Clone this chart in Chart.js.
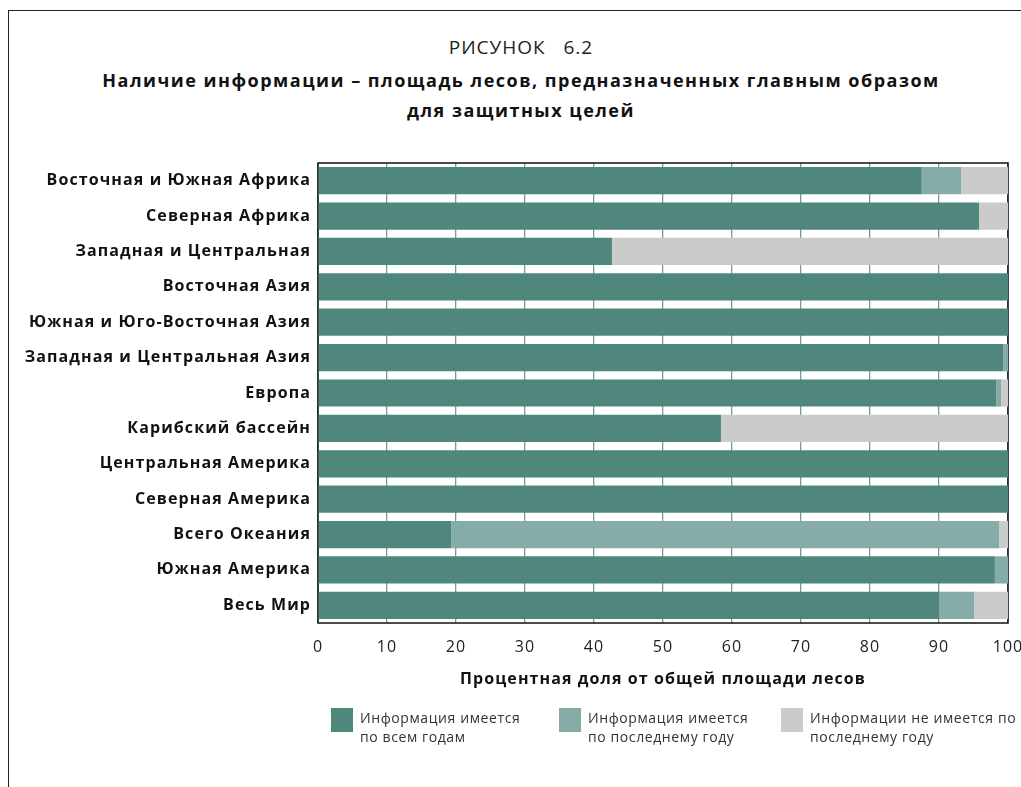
<!DOCTYPE html>
<html>
<head>
<meta charset="utf-8">
<script src="https://cdn.jsdelivr.net/npm/chart.js@4"></script>
<style>
    body { margin: 0; background: #fff; font-family: "Open Sans", sans-serif; }
    #wrap { position: relative; width: 1021px; height: 787px; overflow: hidden; }
    #frame { position: absolute; left: 8px; top: 10px; width: 1100px; height: 900px; border-left: 1.5px solid #222; border-top: 1.5px solid #222; }
    .t { position: absolute; left: 0; width: 1042px; text-align: center; color: #111; white-space: nowrap; }
    #fig { top: 34px; font-size: 19px; letter-spacing: 1px; color: #222; }
    #ttl { top: 65px; font-size: 18px; font-weight: bold; line-height: 30px; letter-spacing: 1.5px; }
    canvas { position: absolute; left: 0; top: 0; }
    .lg { position: absolute; top: 708px; font-size: 14px; line-height: 19px; color: #333; white-space: nowrap; letter-spacing: 0.6px; }
    .lg i { position: absolute; left: -29px; top: 0; width: 22px; height: 24px; }
</style>
</head>
<body>
<div id="wrap">
    <div id="frame"></div>
    <div class="t" id="fig">РИСУНОК&nbsp;&nbsp; 6.2</div>
    <div class="t" id="ttl">Наличие информации – площадь лесов, предназначенных главным образом<br>для защитных целей</div>
    <canvas id="forestChart" width="1021" height="787"></canvas>
    <div class="lg" style="left:360px"><i style="background:#4f877d"></i>Информация имеется<br>по всем годам</div>
    <div class="lg" style="left:588px"><i style="background:#86aca7"></i>Информация имеется<br>по последнему году</div>
    <div class="lg" style="left:810px"><i style="background:#cbcbcb"></i>Информации не имеется по<br>последнему году</div>
</div>
<script>
// Data
const regions = ['Восточная и Южная Африка', 'Северная Африка', 'Западная и Центральная', 'Восточная Азия',
    'Южная и Юго-Восточная Азия', 'Западная и Центральная Азия', 'Европа', 'Карибский бассейн',
    'Центральная Америка', 'Северная Америка', 'Всего Океания', 'Южная Америка', 'Весь Мир'];
const allYears = [87.5, 95.8, 42.6, 100, 100, 99.3, 98.3, 58.4, 100, 100, 19.3, 98.1, 90.0];
const lastYear = [5.7, 0, 0, 0, 0, 0.7, 0.7, 0, 0, 0, 79.4, 1.9, 5.1];
const noInfo = [6.8, 4.2, 57.4, 0, 0, 0, 1.0, 41.6, 0, 0, 1.3, 0, 4.9];
const xTicks = [0, 10, 20, 30, 40, 50, 60, 70, 80, 90, 100];

// wider text like the original
const spacing = {
    id: 'spacing',
    beforeLayout(chart) { chart.ctx.letterSpacing = '1.1px'; },
    beforeDraw(chart) { chart.ctx.letterSpacing = '1.1px'; }
};

// box round plot area, under the bars
const plotBox = {
    id: 'plotBox',
    beforeDatasetsDraw(chart) {
        const a = chart.chartArea;
        const ctx = chart.ctx;
        ctx.save();
        ctx.strokeStyle = '#111';
        ctx.lineWidth = 1.5;
        ctx.strokeRect(a.left, a.top, a.right - a.left, a.bottom - a.top);
        ctx.restore();
    }
};

const ctx = document.getElementById('forestChart').getContext('2d');
new Chart(ctx, {
    type: 'bar',
    data: {
        labels: regions,
        datasets: [
            { label: 'Информация имеется по всем годам', data: allYears, backgroundColor: '#4f877d' },
            { label: 'Информация имеется по последнему году', data: lastYear, backgroundColor: '#86aca7' },
            { label: 'Информации не имеется по последнему году', data: noInfo, backgroundColor: '#cbcbcb' }
        ]
    },
    options: {
        indexAxis: 'y',
        responsive: false,
        animation: false,
        barPercentage: 0.77,
        categoryPercentage: 1,
        layout: { padding: { top: 163, right: 13, bottom: 94, left: 0 } },
        plugins: {
            legend: { display: false },
            tooltip: { enabled: false }
        },
        scales: {
            x: {
                stacked: true,
                min: 0,
                max: 100,
                afterBuildTicks(scale) { scale.ticks = xTicks.map(v => ({ value: v })); },
                afterFit(scale) {
                    scale.height = 70;
                    scale.paddingLeft = 0;
                    scale.paddingRight = 0;
                },
                grid: { color: '#6f9f96', lineWidth: 1.3, drawTicks: false },
                border: { display: false },
                ticks: { padding: 15, color: '#222', font: { family: 'Open Sans', size: 16 } },
                title: {
                    display: true,
                    text: 'Процентная доля от общей площади лесов',
                    color: '#111',
                    padding: { top: 2 },
                    font: { family: 'Open Sans', size: 16, weight: 'bold' }
                }
            },
            y: {
                stacked: true,
                afterFit(scale) {
                    scale.width = 318;
                    scale.paddingTop = 0;
                    scale.paddingBottom = 0;
                },
                grid: { display: false, drawTicks: false },
                border: { display: false },
                ticks: { padding: 7, color: '#111', font: { family: 'Open Sans', size: 16, weight: 'bold' } }
            }
        }
    },
    plugins: [spacing, plotBox]
});
</script>
</body>
</html>
